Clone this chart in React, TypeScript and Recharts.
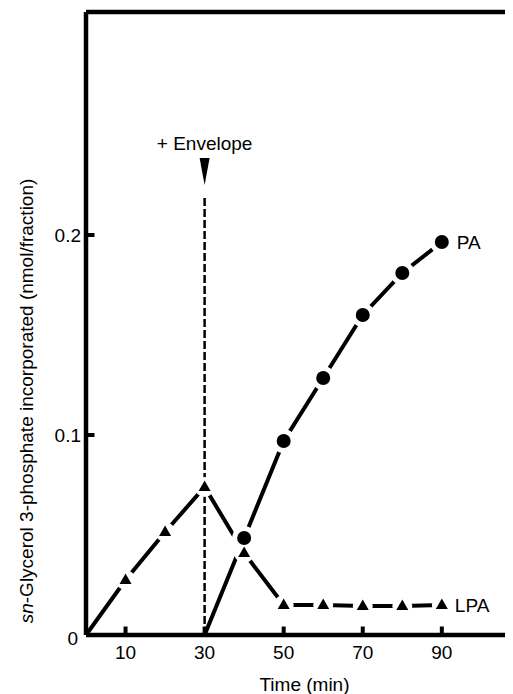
import React from "react";
import {
  LineChart, Line, XAxis, YAxis, ReferenceLine, ReferenceDot, LabelList,
} from "recharts";

// time (min) and incorporation (nmol/fraction)
const times = [0, 10, 20, 30, 40, 50, 60, 70, 80, 90];
const paValues = [null, null, null, 0, 0.0485, 0.097, 0.1285, 0.16, 0.181, 0.1965];
const lpaValues = [0, 0.0275, 0.0515, 0.074, 0.041, 0.015, 0.015, 0.0145, 0.0145, 0.015];

const xTicks = [10, 30, 50, 70, 90];
const yTicks = [0, 0.1, 0.2];
const X_MAX = 108;
const Y_MAX = 0.3115;
const ENVELOPE_T = 30;
const ENVELOPE_TOP = 0.2185;
const ARROW_Y = 0.232;

const data = times.map((t, i) => ({ t, pa: paValues[i], lpa: lpaValues[i] }));

const FONT = '"Liberation Sans", Arial, Helvetica, sans-serif';
const FS = 19;
const last = times.length - 1;

function hasMark(v: number | null | undefined) {
  return v != null && v !== 0;
}

function haloDot(key: "pa" | "lpa", r: number) {
  return (p: any) => {
    if (!hasMark(p.payload?.[key])) return <g key={p.index} />;
    return <circle key={p.index} cx={p.cx} cy={p.cy} r={r} fill="#fff" stroke="none" />;
  };
}

const circleDot = (p: any) => {
  if (!hasMark(p.payload?.pa)) return <g key={p.index} />;
  return <circle key={p.index} cx={p.cx} cy={p.cy} r={7} fill="#000" stroke="none" />;
};

const triangleDot = (p: any) => {
  if (!hasMark(p.payload?.lpa)) return <g key={p.index} />;
  const { cx, cy } = p;
  return (
    <path key={p.index} d={`M${cx},${cy - 6.5} L${cx + 6},${cy + 4} L${cx - 6},${cy + 4} Z`} fill="#000" />
  );
};

function endLabel(text: string, dx: number) {
  return (p: any) => {
    if (p.index !== last) return null;
    return (
      <text x={p.x + dx} y={p.y} dy={7} fontSize={FS} fontFamily={FONT} fill="#000">
        {text}
      </text>
    );
  };
}

const YTick = (p: any) => {
  const v = p.payload.value;
  const ax = p.x + 8;
  return (
    <g>
      {v !== 0 && <line x1={ax} x2={ax + 8.5} y1={p.y} y2={p.y} stroke="#000" strokeWidth={4} />}
      <text x={v === 0 ? p.x : p.x + 3} y={v === 0 ? p.y + 3 : p.y} dy={7} textAnchor="end"
        fontSize={FS} fontFamily={FONT} fill="#000">
        {v === 0 ? "0" : v.toFixed(1)}
      </text>
    </g>
  );
};

const XTick = (p: any) => {
  const ay = p.y - 8;
  return (
    <g>
      <line x1={p.x} x2={p.x} y1={ay} y2={ay - 8.5} stroke="#000" strokeWidth={4} />
      <text x={p.x} y={p.y + 16} textAnchor="middle" fontSize={FS} fontFamily={FONT} fill="#000">
        {p.payload.value}
      </text>
    </g>
  );
};

const Arrow = (p: any) => {
  const { cx, cy } = p;
  return (
    <g>
      <path d={`M${cx - 5},${cy - 13} L${cx + 5},${cy - 13} L${cx},${cy + 14} Z`} fill="#000" />
      <text x={cx} y={cy - 21.5} textAnchor="middle" fontSize={FS} fontFamily={FONT} fill="#000">
        + Envelope
      </text>
    </g>
  );
};

export default function App() {
  return (
    <div style={{ width: 505, height: 686, overflow: "hidden", background: "#fff" }}>
      <LineChart width={505} height={686} data={data} margin={{ top: 4, right: 0, bottom: 0, left: 0 }}>
        <XAxis dataKey="t" type="number" domain={[0, X_MAX]} ticks={xTicks} height={59}
          axisLine={{ stroke: "#000", strokeWidth: 4.5 }} tickLine={false} tickSize={6} tickMargin={2}
          tick={<XTick />}
          label={{
            content: (lp: any) => (
              <text x={lp.viewBox.x + lp.viewBox.width / 2 + 5} y={lp.viewBox.y + 56}
                textAnchor="middle" fontSize={FS} fontFamily={FONT} fill="#000">Time (min)</text>
            ),
          }} />
        <YAxis type="number" domain={[0, Y_MAX]} ticks={yTicks} width={78}
          axisLine={{ stroke: "#000", strokeWidth: 4.5 }} tickLine={false} tickSize={6} tickMargin={2}
          tick={<YTick />}
          label={{
            content: () => (
              <text transform="rotate(-90, 18, 393)" x={18} y={393} dy={6.5} textAnchor="middle"
                fontSize={FS} fontFamily={FONT} fill="#000">
                <tspan fontStyle="italic">sn</tspan>-Glycerol 3-phosphate incorporated (nmol/fraction)
              </text>
            ),
          }} />
        <ReferenceLine y={Y_MAX} stroke="#000" strokeWidth={4.5} ifOverflow="visible" />
        <ReferenceLine segment={[{ x: ENVELOPE_T, y: 0 }, { x: ENVELOPE_T, y: ENVELOPE_TOP }]}
          stroke="#000" strokeWidth={2.5} strokeDasharray="8 3" />
        <ReferenceDot x={ENVELOPE_T} y={ARROW_Y} shape={<Arrow />} />
        <Line dataKey="lpa" type="linear" stroke="#000" strokeWidth={4} dot={haloDot("lpa", 10)}
          activeDot={false} isAnimationActive={false} />
        <Line dataKey="pa" type="linear" stroke="#000" strokeWidth={4} dot={haloDot("pa", 12)}
          activeDot={false} isAnimationActive={false} connectNulls={false} />
        <Line dataKey="lpa" type="linear" stroke="none" dot={triangleDot} activeDot={false}
          isAnimationActive={false}>
          <LabelList dataKey="lpa" content={endLabel("LPA", 13)} />
        </Line>
        <Line dataKey="pa" type="linear" stroke="none" dot={circleDot} activeDot={false}
          isAnimationActive={false}>
          <LabelList dataKey="pa" content={endLabel("PA", 15)} />
        </Line>
      </LineChart>
    </div>
  );
}
